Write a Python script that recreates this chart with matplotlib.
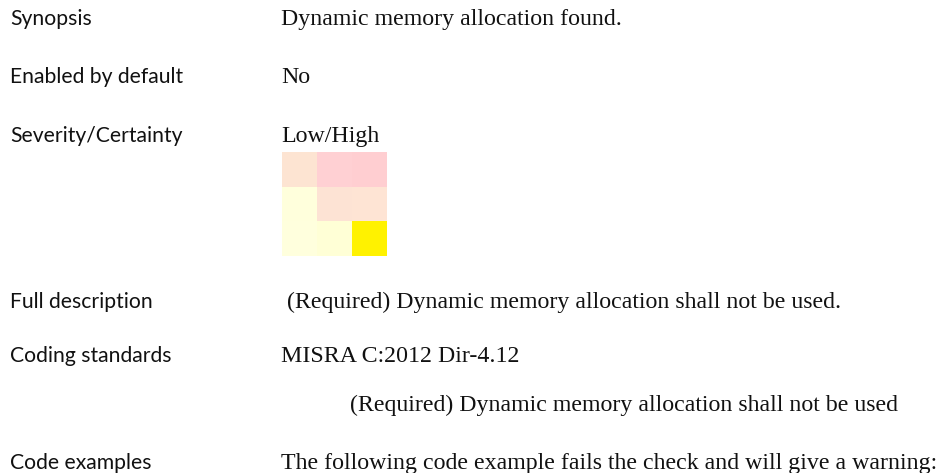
import numpy as np
import matplotlib.pyplot as plt
from matplotlib.colors import to_rgb

# Left-hand labels and right-hand values of the check description
labels = ["Synopsis", "Enabled by default", "Severity/Certainty",
          "Full description", "Coding standards", "Code examples"]
values = ["Dynamic memory allocation found.", "No", "Low/High",
          " (Required) Dynamic memory allocation shall not be used.",
          "MISRA C:2012 Dir-4.12",
          "The following code example fails the check and will give a warning:"]
standard_note = "(Required) Dynamic memory allocation shall not be used"

# severity/certainty matrix colours (rows top->bottom)
cell_colors = [["#FDE4D2", "#FFD0D3", "#FFCED1"],
               ["#FFFFDC", "#FDE3D4", "#FEE4D4"],
               ["#FFFFDD", "#FFFFD6", "#FFF200"]]

W, H = 944, 473
fig = plt.figure(figsize=(W / 100, H / 100), dpi=100)
fig.patch.set_facecolor("white")

def px(x, y):
    return x / W, 1 - y / H

# baselines in pixels
row_y = [25, 83, 142, 308, 362, 469]
for lab, val, y in zip(labels, values, row_y):
    fig.text(*px(10, y), lab, family="Lato", fontsize=15.2, va="baseline", ha="left", color="#111111")
    fig.text(*px(281, y), val, family="Liberation Serif", fontsize=17.2, va="baseline", ha="left", color="#111111")

fig.text(*px(350, 411), standard_note, family="Liberation Serif", fontsize=17.2,
         va="baseline", ha="left", color="#111111")

# little 3x3 matrix
ax = fig.add_axes([282 / W, (H - 256) / H, 105 / W, 104 / H])
rgb = np.array([[to_rgb(c) for c in row] for row in cell_colors])
ax.imshow(rgb, aspect="auto", interpolation="nearest")
ax.axis("off")

fig.savefig("out.png", dpi=100, facecolor="white")
